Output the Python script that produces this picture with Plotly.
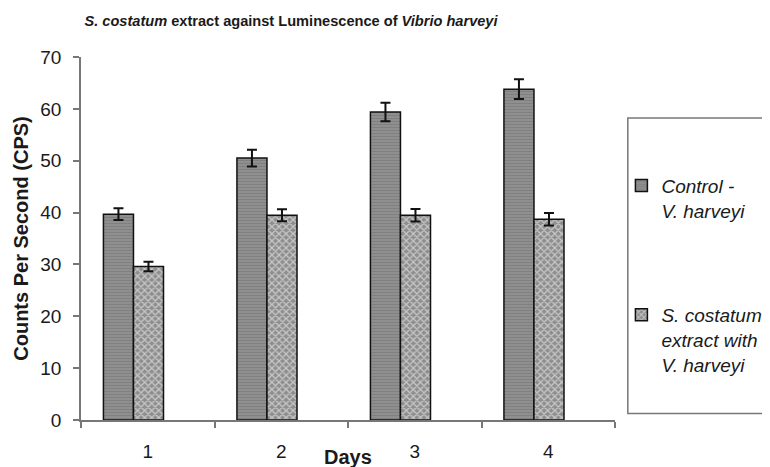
import plotly.graph_objects as go

days = [1, 2, 3, 4]
day_labels = ["1", "2", "3", "4"]
control = [39.7, 50.5, 59.4, 63.8]
control_err = [1.15, 1.6, 1.8, 1.9]
treated = [29.6, 39.5, 39.5, 38.7]
treated_err = [0.9, 1.15, 1.2, 1.2]
y_ticks = [0, 10, 20, 30, 40, 50, 60, 70]

FONT = "Liberation Sans, Arial, sans-serif"
TXT = "#1a1a1a"

fig = go.Figure()
fig.add_trace(go.Bar(
    x=days, y=control, name="<i>Control -<br>V. harveyi</i>",
    width=0.225, offset=-0.332,
    marker=dict(color="#8a8a8a", line=dict(color="#111", width=1.5),
                pattern=dict(shape="-", fgcolor="#6e6e6e", bgcolor="#929292", size=3, solidity=0.45)),
    error_y=dict(type="data", array=control_err, color="#111", thickness=2, width=5),
    legend="legend",
))
fig.add_trace(go.Bar(
    x=days, y=treated, name="<i>S. costatum<br>extract with<br>V. harveyi</i>",
    width=0.225, offset=-0.107,
    marker=dict(color="#ffffff", line=dict(color="#111", width=1.5),
                pattern=dict(shape="x", fgcolor="#ffffff", bgcolor="#8e8e8e", size=5, solidity=0.45)),
    error_y=dict(type="data", array=treated_err, color="#111", thickness=2, width=5),
    legend="legend2",
))

fig.add_shape(type="rect", xref="paper", yref="paper", x0=1.024, x1=1.4, y0=0.018, y1=0.832,
              line=dict(color="#777", width=1.5), fillcolor="rgba(0,0,0,0)")

fig.add_annotation(text="<b>Days</b>", xref="paper", yref="paper", x=0.5, y=-0.102,
                   xanchor="center", yanchor="middle", showarrow=False,
                   font=dict(family=FONT, size=20, color=TXT))

fig.update_layout(
    width=770, height=467,
    margin=dict(l=73, r=163, t=49, b=55, autoexpand=False),
    paper_bgcolor="white", plot_bgcolor="white",
    font=dict(family=FONT, size=19, color=TXT),
    barmode="overlay",
    showlegend=True,
    title=dict(text="<b><i>S. costatum</i> extract against Luminescence of <i>Vibrio harveyi</i></b>",
               x=283 / 770, xanchor="center", y=1 - 13 / 467, yanchor="middle",
               font=dict(family=FONT, size=14.6, color=TXT)),
    xaxis=dict(range=[0.5, 4.5], tickvals=days, ticktext=day_labels, ticks="",
               showline=True, linecolor="#777", linewidth=1.5, showgrid=False, zeroline=False,
               automargin=False, ticklabelstandoff=13,
               tickfont=dict(family=FONT, size=19, color=TXT),
               minor=dict(tickvals=[0.5, 1.5, 2.5, 3.5, 4.5], ticks="outside", ticklen=6,
                          tickcolor="#777", tickwidth=1.5, showgrid=False)),
    yaxis=dict(range=[0, 70], tickvals=y_ticks, ticks="outside", ticklen=6, tickcolor="#777", tickwidth=1.5,
               showline=True, linecolor="#777", linewidth=1.5, showgrid=False, zeroline=False,
               automargin=False, ticklabelstandoff=8,
               tickfont=dict(family=FONT, size=19, color=TXT),
               title=dict(text="<b>Counts Per Second (CPS)</b>", standoff=6,
                          font=dict(family=FONT, size=20, color=TXT))),
    legend=dict(x=1.012, y=0.698, xanchor="left", yanchor="top", valign="top",
                bgcolor="rgba(0,0,0,0)", borderwidth=0, itemwidth=30,
                font=dict(family=FONT, size=19, color=TXT)),
    legend2=dict(x=1.012, y=0.342, xanchor="left", yanchor="top", valign="top",
                 bgcolor="rgba(0,0,0,0)", borderwidth=0, itemwidth=30,
                 font=dict(family=FONT, size=19, color=TXT)),
)

fig.write_html("out.html")
